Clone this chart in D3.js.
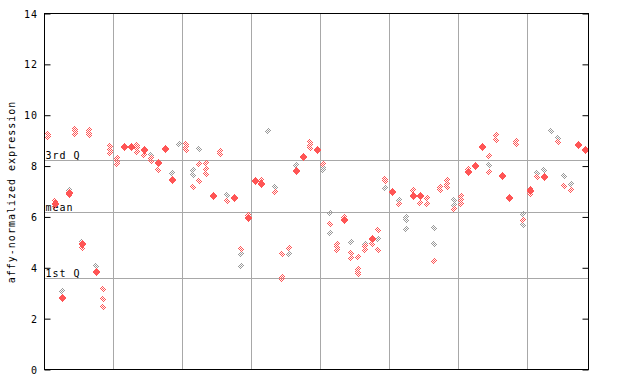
<!DOCTYPE html>
<html>
<head>
<meta charset="utf-8">
<script src="https://cdn.jsdelivr.net/npm/d3@7"></script>
<style>
  body { margin: 0; background: #fff; }
  text { font-family: "DejaVu Sans Mono", monospace; font-size: 10px; letter-spacing: 1px; }
</style>
</head>
<body>
<div id="canevas"></div>
<script>
// ---------------------------------------------------------------- données
// une colonne par échantillon (79), groupes de 10
let redOpen = [
  [9.15, 9.25], [6.62, 6.42], [], [6.86], [9.47, 9.38, 9.25],
  [4.79], [9.41, 9.32, 9.21], [], [3.18, 2.78, 2.47], [8.78, 8.65, 8.52],
  [8.33, 8.2, 8.1], [], [], [8.82, 8.73, 8.56], [8.45],
  [8.33, 8.2], [7.86], [], [], [],
  [8.86, 8.75, 8.62], [7.19], [8.1, 7.43], [8.14, 7.9, 7.68], [],
  [8.58, 8.48], [6.63], [], [4.75], [6.09],
  [], [7.44], [], [6.97], [4.55, 3.65, 3.55],
  [4.76], [], [], [8.95, 8.83, 8.73], [],
  [8.1], [5.74], [4.92, 4.82, 4.69], [6.0], [4.59, 4.37],
  [4.41, 3.94, 3.83, 3.74], [4.84, 4.71], [4.94], [5.5, 4.71], [7.51, 7.41],
  [], [6.52], [], [7.07], [6.56],
  [6.76, 6.52], [4.28], [7.18, 7.07], [7.44, 7.31, 7.18], [6.33],
  [6.81, 6.65, 6.5], [7.9], [], [], [8.39, 7.77],
  [9.24, 9.02], [], [], [8.97, 8.87], [5.89],
  [7.11, 6.89], [7.57], [], [], [8.95],
  [7.2], [7.05], [], []
];
let redSolid = [
  [], [6.5], [2.81], [6.94], [],
  [4.92], [], [3.82], [], [],
  [], [8.75], [8.75], [], [8.65],
  [], [8.12], [8.69], [7.45], [],
  [], [], [], [], [6.81],
  [], [], [6.76], [], [5.97],
  [7.4], [7.31], [], [], [],
  [], [7.8], [8.34], [], [8.65],
  [], [], [], [5.87], [],
  [], [], [5.14], [], [],
  [6.98], [], [], [6.82], [6.82],
  [], [], [], [], [],
  [], [7.77], [8.0], [8.75], [],
  [], [7.6], [6.76], [], [],
  [7.01], [], [7.57], [], [],
  [], [], [8.82], [8.65]
];
let greyOpen = [
  [], [], [3.1], [7.05], [],
  [5.01], [], [4.08], [], [],
  [], [], [], [], [],
  [8.45], [], [], [7.74], [8.86],
  [], [7.86, 7.63], [8.69], [], [],
  [], [6.85], [], [4.55, 4.08], [],
  [], [], [9.36], [7.17], [],
  [4.55], [8.06], [], [], [],
  [7.97, 7.86], [6.17, 5.38], [], [], [5.03],
  [], [4.94], [], [5.14], [7.15],
  [], [6.68], [6.0, 5.87, 5.54], [], [],
  [], [5.58, 4.95], [], [], [6.65, 6.46],
  [], [], [], [], [8.03],
  [], [], [], [], [6.13, 5.7],
  [], [7.73], [7.86], [9.37], [9.12],
  [7.6], [7.31], [], []
];
let lignes = [
  {nom: "3rd Q", v: 8.23},
  {nom: "mean", v: 6.21},
  {nom: "1st Q", v: 3.61}
];
let yTicks = [0, 2, 4, 6, 8, 10, 12, 14];
let nEchantillons = 79;
let tailleGroupe = 10;

// ---------------------------------------------------------------- canevas
let largeur = 640;
let hauteur = 384;
let gauche = 44.5, droite = 588.5, haut = 13.5, bas = 369.5;

let canevas = d3.select("#canevas")
  .append("svg")
  .attr("width", largeur)
  .attr("height", hauteur);

let rouge = "#ff5555";
let gris = "#a8a8a8";

// motif en damier pour les losanges creux
let defs = canevas.append("defs");
function damier(id, couleur) {
  let p = defs.append("pattern")
    .attr("id", id)
    .attr("width", 2).attr("height", 2)
    .attr("patternUnits", "userSpaceOnUse");
  p.append("rect").attr("x", 0).attr("y", 0).attr("width", 1).attr("height", 1).attr("fill", couleur);
  p.append("rect").attr("x", 1).attr("y", 1).attr("width", 1).attr("height", 1).attr("fill", couleur);
}
damier("chkR", rouge);
damier("chkG", "#999999");

// echelles
let echelleX = d3.scaleBand()
  .domain(d3.range(nEchantillons))
  .range([gauche, droite]);

let echelleY = d3.scaleLinear()
  .domain([0, 14])
  .range([bas, haut]);

// ---------------------------------------------------------------- grille
let separations = d3.range(tailleGroupe, nEchantillons, tailleGroupe);
canevas.selectAll("line.sep")
  .data(separations)
  .enter()
  .append("line")
    .attr("x1", d => Math.round(echelleX(d)) + 0.5)
    .attr("x2", d => Math.round(echelleX(d)) + 0.5)
    .attr("y1", haut).attr("y2", bas)
    .attr("stroke", gris);

canevas.selectAll("line.ref")
  .data(lignes)
  .enter()
  .append("line")
    .attr("x1", gauche).attr("x2", droite)
    .attr("y1", d => Math.round(echelleY(d.v)) + 0.5)
    .attr("y2", d => Math.round(echelleY(d.v)) + 0.5)
    .attr("stroke", gris);

canevas.selectAll("text.ref")
  .data(lignes)
  .enter()
  .append("text")
    .attr("x", gauche + 1)
    .attr("y", d => Math.round(echelleY(d.v)) - 1)
    .text(d => d.nom);

// ---------------------------------------------------------------- points
function points(donnees, plein, remplissage) {
  let pts = [];
  donnees.forEach((vals, i) => vals.forEach(v => pts.push({i: i, v: v})));
  let r = plein ? 4 : 3;
  canevas.append("g")
    .selectAll("path")
    .data(pts)
    .enter()
    .append("path")
      .attr("shape-rendering", "crispEdges")
      .attr("d", d => {
        let cx = Math.round(echelleX(d.i) + echelleX.bandwidth() / 2);
        let cy = Math.round(echelleY(d.v));
        return `M${cx},${cy - 4}L${cx + r},${cy}L${cx},${cy + 4}L${cx - r},${cy}Z`;
      })
      .attr("fill", remplissage);
}
points(greyOpen, false, "url(#chkG)");
points(redOpen, false, "url(#chkR)");
points(redSolid, true, rouge);

// ---------------------------------------------------------------- axes
canevas.append("rect")
  .attr("x", gauche).attr("y", haut)
  .attr("width", droite - gauche).attr("height", bas - haut)
  .attr("fill", "none")
  .attr("stroke", "#000");

let axeG = canevas.append("g")
  .attr("transform", `translate(${gauche},0)`)
  .call(d3.axisRight(echelleY).tickValues(yTicks).tickSize(6).tickFormat(""));
axeG.select(".domain").remove();

let axeD = canevas.append("g")
  .attr("transform", `translate(${droite},0)`)
  .call(d3.axisLeft(echelleY).tickValues(yTicks).tickSize(6).tickFormat(""));
axeD.select(".domain").remove();

canevas.selectAll("text.tick")
  .data(yTicks)
  .enter()
  .append("text")
    .attr("x", 38)
    .attr("y", d => echelleY(d) + 4)
    .attr("text-anchor", "end")
    .text(d => d);

canevas.append("text")
  .attr("transform", "translate(15,192) rotate(-90)")
  .attr("text-anchor", "middle")
  .text("affy-normalized expression");
</script>
</body>
</html>
